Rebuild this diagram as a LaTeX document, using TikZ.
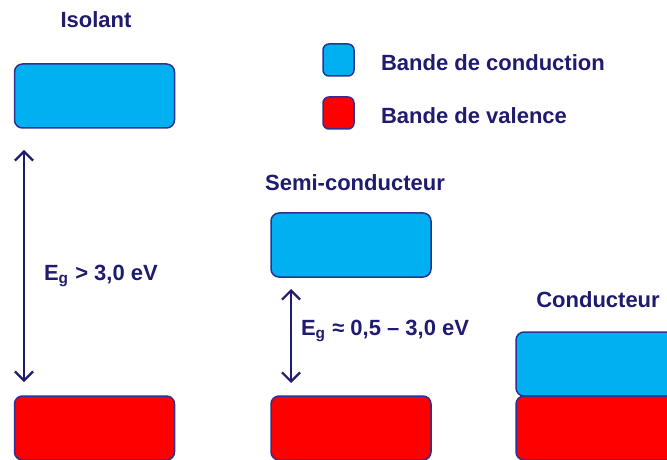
\documentclass[tikz,border=0pt]{standalone}
\usepackage{fontspec}
\setmainfont{Liberation Sans}
\usepackage{xcolor}
\usepackage{tikz}
\usetikzlibrary{arrows.meta, positioning}
\definecolor{bandeCond}{HTML}{00B0F0}
\definecolor{bandeVal}{HTML}{FF0000}
\definecolor{bordBande}{HTML}{2E3192}
\definecolor{texteBleu}{HTML}{1F1B6E}

\begin{document}
\begin{tikzpicture}[x=0.5pt, y=-0.5pt,
  every node/.style={font=\fontsize{11}{13}\selectfont\bfseries, text=texteBleu},
  bande/.style={rectangle, draw=bordBande, line width=0.75pt, rounded corners=4pt,
    minimum width=80pt, minimum height=32pt, inner sep=0pt},
  cond/.style={bande, fill=bandeCond},
  val/.style={bande, fill=bandeVal},
  legende/.style={rectangle, draw=bordBande, line width=0.75pt, rounded corners=3pt,
    minimum width=15.5pt, minimum height=16pt, inner sep=0pt},
  gap/.style={draw=texteBleu, line width=1.1pt,
    {Straight Barb[length=4.5pt, width=9pt]}-{Straight Barb[length=4.5pt, width=9pt]}}]
\useasboundingbox (0,0) rectangle (667,459);
\clip (0,0) rectangle (667,459);

% legend
\node[legende, fill=bandeCond] (legCond) at (338.5,60) {};
\node[legende, fill=bandeVal] (legVal) at (338.5,113) {};
\node[anchor=west] (txtCond) at (374,63) {Bande de conduction};
\node[anchor=west] (txtVal) at (374,116) {Bande de valence};

% isolant
\node (titreIso) at (96,20) {Isolant};
\node[cond] (isoCond) at (94.5,96) {};
\node[val] (isoVal) at (94.5,428) {};
\coordinate (isoHaut) at (24,150);
\coordinate (isoBas) at (24,382);
\draw[gap] (isoHaut) -- (isoBas);
\node[anchor=west] (gapIso) at (37,276) {E\textsubscript{g} > 3,0 eV};

% semi-conducteur
\node (titreSemi) at (355,183) {Semi-conducteur};
\node[cond] (semiCond) at (351,245) {};
\node[val] (semiVal) at (351,428) {};
\coordinate (semiHaut) at (291,289);
\coordinate (semiBas) at (291,383);
\draw[gap] (semiHaut) -- (semiBas);
\node[anchor=west] (gapSemi) at (294,331) {E\textsubscript{g} ≈ 0,5 – 3,0 eV};

% conducteur
\node (titreCond) at (598,300) {Conducteur};
\node[cond] (condCond) at (596,364) {};
\node[val] (condVal) at (596,428) {};
\end{tikzpicture}
\end{document}
